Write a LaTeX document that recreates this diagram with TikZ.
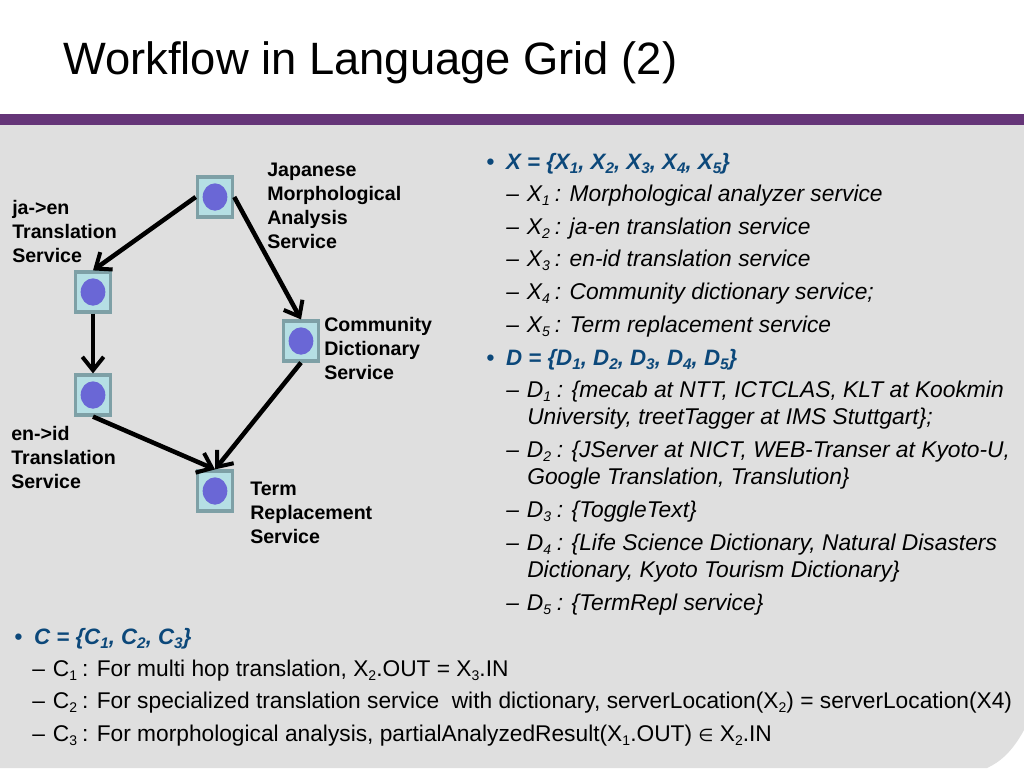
\documentclass[tikz,border=0pt]{standalone}
\usepackage{fontspec}
\setmainfont{Liberation Sans}
\newfontfamily\symbolfont{DejaVu Sans}
\usepackage{tikz}
\usetikzlibrary{arrows.meta, positioning, shapes.geometric, calc}
\definecolor{bandpurple}{RGB}{101, 53, 120}
\definecolor{panelgray}{RGB}{223, 223, 223}
\definecolor{boxcyan}{RGB}{181, 223, 228}
\definecolor{boxedge}{RGB}{126, 160, 166}
\definecolor{dotblue}{RGB}{106, 103, 214}
\definecolor{headblue}{RGB}{12, 72, 122}
\newcommand{\idx}[1]{\raisebox{-3.2pt}{\fontsize{10.5}{12}\selectfont #1}}
\newcommand{\headidx}[1]{\raisebox{-3.2pt}{\fontsize{11.5}{12}\selectfont #1}}

\begin{document}
\begin{tikzpicture}[
    x=0.75pt, y=-0.75pt,
    servicenode/.style={rectangle, draw=boxedge, fill=boxcyan, line width=2.4pt, minimum width=26.5pt, minimum height=30pt, inner sep=0pt},
    servicedot/.style={ellipse, fill=dotblue, minimum width=18.5pt, minimum height=20.5pt, inner sep=0pt},
    labelnode/.style={anchor=north west, align=left, inner sep=0pt, font=\fontsize{14.7}{18}\selectfont\bfseries},
    bulletnode/.style={anchor=base west, inner sep=0pt, text=headblue, font=\fontsize{16.7}{20.25}\selectfont\bfseries\itshape},
    itemnode/.style={anchor=base west, inner sep=0pt, align=left, font=\fontsize{17.1}{20.25}\selectfont\itshape},
    plainnode/.style={anchor=base west, inner sep=0pt, font=\fontsize{17.05}{20}\selectfont},
    arrow/.style={-{Straight Barb[length=10pt, width=16pt, line width=3pt]}, line width=3.4pt, draw=black}
]
    \useasboundingbox (0,0) rectangle (1024,768);
    % Background
    \fill[white] (0,0) rectangle (1024,768);
    \fill[panelgray] (0,125) -- (1024,125) -- (1024,730) .. controls (1012,752) and (1000,762) .. (987,768) -- (0,768) -- cycle;
    \fill[bandpurple] (0,114) rectangle (1024,125);
    \node[anchor=base west, inner sep=0pt, font=\fontsize{34}{40}\selectfont] (title) at (63,74) {Workflow in Language Grid (2)};

    % Nodes
    \node[servicenode] (morph) at (215,197) {};
    \node[servicenode] (jaen) at (93,292) {};
    \node[servicenode] (enid) at (93,395) {};
    \node[servicenode] (dict) at (301,341) {};
    \node[servicenode] (term) at (215,491) {};
    \node[servicedot] (morphdot) at (morph) {};
    \node[servicedot] (jaendot) at (jaen) {};
    \node[servicedot] (eniddot) at (enid) {};
    \node[servicedot] (dictdot) at (dict) {};
    \node[servicedot] (termdot) at (term) {};

    \node[labelnode] (morphlabel) at (267,163) {Japanese\\Morphological\\Analysis\\Service};
    \node[labelnode] (jaenlabel) at (12,200) {ja->en\\Translation\\Service};
    \node[labelnode] (dictlabel) at (324,317) {Community\\Dictionary\\Service};
    \node[labelnode] (enidlabel) at (11,426) {en->id\\Translation\\Service};
    \node[labelnode] (termlabel) at (250,482) {Term\\Replacement\\Service};

    % Edges
    \draw[arrow] (morph.west) -- (jaen.north);
    \draw[arrow] (morph.east) -- (dict.north);
    \draw[arrow] (jaen.south) -- (enid.north);
    \draw[arrow] (enid.south) -- (term.north);
    \draw[arrow] (dict.south) -- (term.north);

    % Text on the right
    \node[bulletnode] (xhead) at (486,169) {•\hspace{9pt}X = \{X\headidx{1}, X\headidx{2}, X\headidx{3}, X\headidx{4}, X\headidx{5}\}};
    \node[itemnode] (x1) at (506,201) {–\hspace{6pt}X\idx{1}\hspace{-1pt} : Morphological analyzer service};
    \node[itemnode] (x2) at (506,234) {–\hspace{6pt}X\idx{2}\hspace{-1pt} : ja-en translation service};
    \node[itemnode] (x3) at (506,266) {–\hspace{6pt}X\idx{3}\hspace{-1pt} : en-id translation service};
    \node[itemnode] (x4) at (506,299) {–\hspace{6pt}X\idx{4}\hspace{-1pt} : Community dictionary service;};
    \node[itemnode] (x5) at (506,332) {–\hspace{6pt}X\idx{5}\hspace{-1pt} : Term replacement service};
    \node[bulletnode] (dhead) at (486,365) {•\hspace{9pt}D = \{D\headidx{1}, D\headidx{2}, D\headidx{3}, D\headidx{4}, D\headidx{5}\}};
    \node[itemnode] (d1) at (506,397) {–\hspace{6pt}D\idx{1}\hspace{-0.5pt} : \{mecab at NTT, ICTCLAS, KLT at Kookmin};
    \node[itemnode] (d1b) at (527,424) {University, treetTagger at IMS Stuttgart\};};
    \node[itemnode] (d2) at (506,457) {–\hspace{6pt}D\idx{2}\hspace{-0.5pt} : \{JServer at NICT, WEB-Transer at Kyoto-U,};
    \node[itemnode] (d2b) at (527,484) {Google Translation, Translution\}};
    \node[itemnode] (d3) at (506,517) {–\hspace{6pt}D\idx{3}\hspace{-0.5pt} : \{ToggleText\}};
    \node[itemnode] (d4) at (506,550) {–\hspace{6pt}D\idx{4}\hspace{-0.5pt} : \{Life Science Dictionary, Natural Disasters};
    \node[itemnode] (d4b) at (527,577) {Dictionary, Kyoto Tourism Dictionary\}};
    \node[itemnode] (d5) at (506,610) {–\hspace{6pt}D\idx{5}\hspace{-0.5pt} : \{TermRepl service\}};

    % Text at the bottom
    \node[bulletnode] (chead) at (14,644) {•\hspace{9pt}C = \{C\headidx{1}, C\headidx{2}, C\headidx{3}\}};
    \node[plainnode] (c1) at (32,676) {–\hspace{6pt}C\idx{1}\hspace{-1pt} : For multi hop translation, X\idx{2}.OUT = X\idx{3}.IN};
    \node[plainnode] (c2) at (32,708) {–\hspace{6pt}C\idx{2}\hspace{-1pt} : For specialized translation service\ \ with dictionary, serverLocation(X\idx{2}) = serverLocation(X4)};
    \node[plainnode] (c3) at (32,741) {–\hspace{6pt}C\idx{3}\hspace{-1pt} : For morphological analysis, partialAnalyzedResult(X\idx{1}.OUT) {\symbolfont\fontsize{13}{14}\selectfont ∈} X\idx{2}.IN};
\end{tikzpicture}
\end{document}
